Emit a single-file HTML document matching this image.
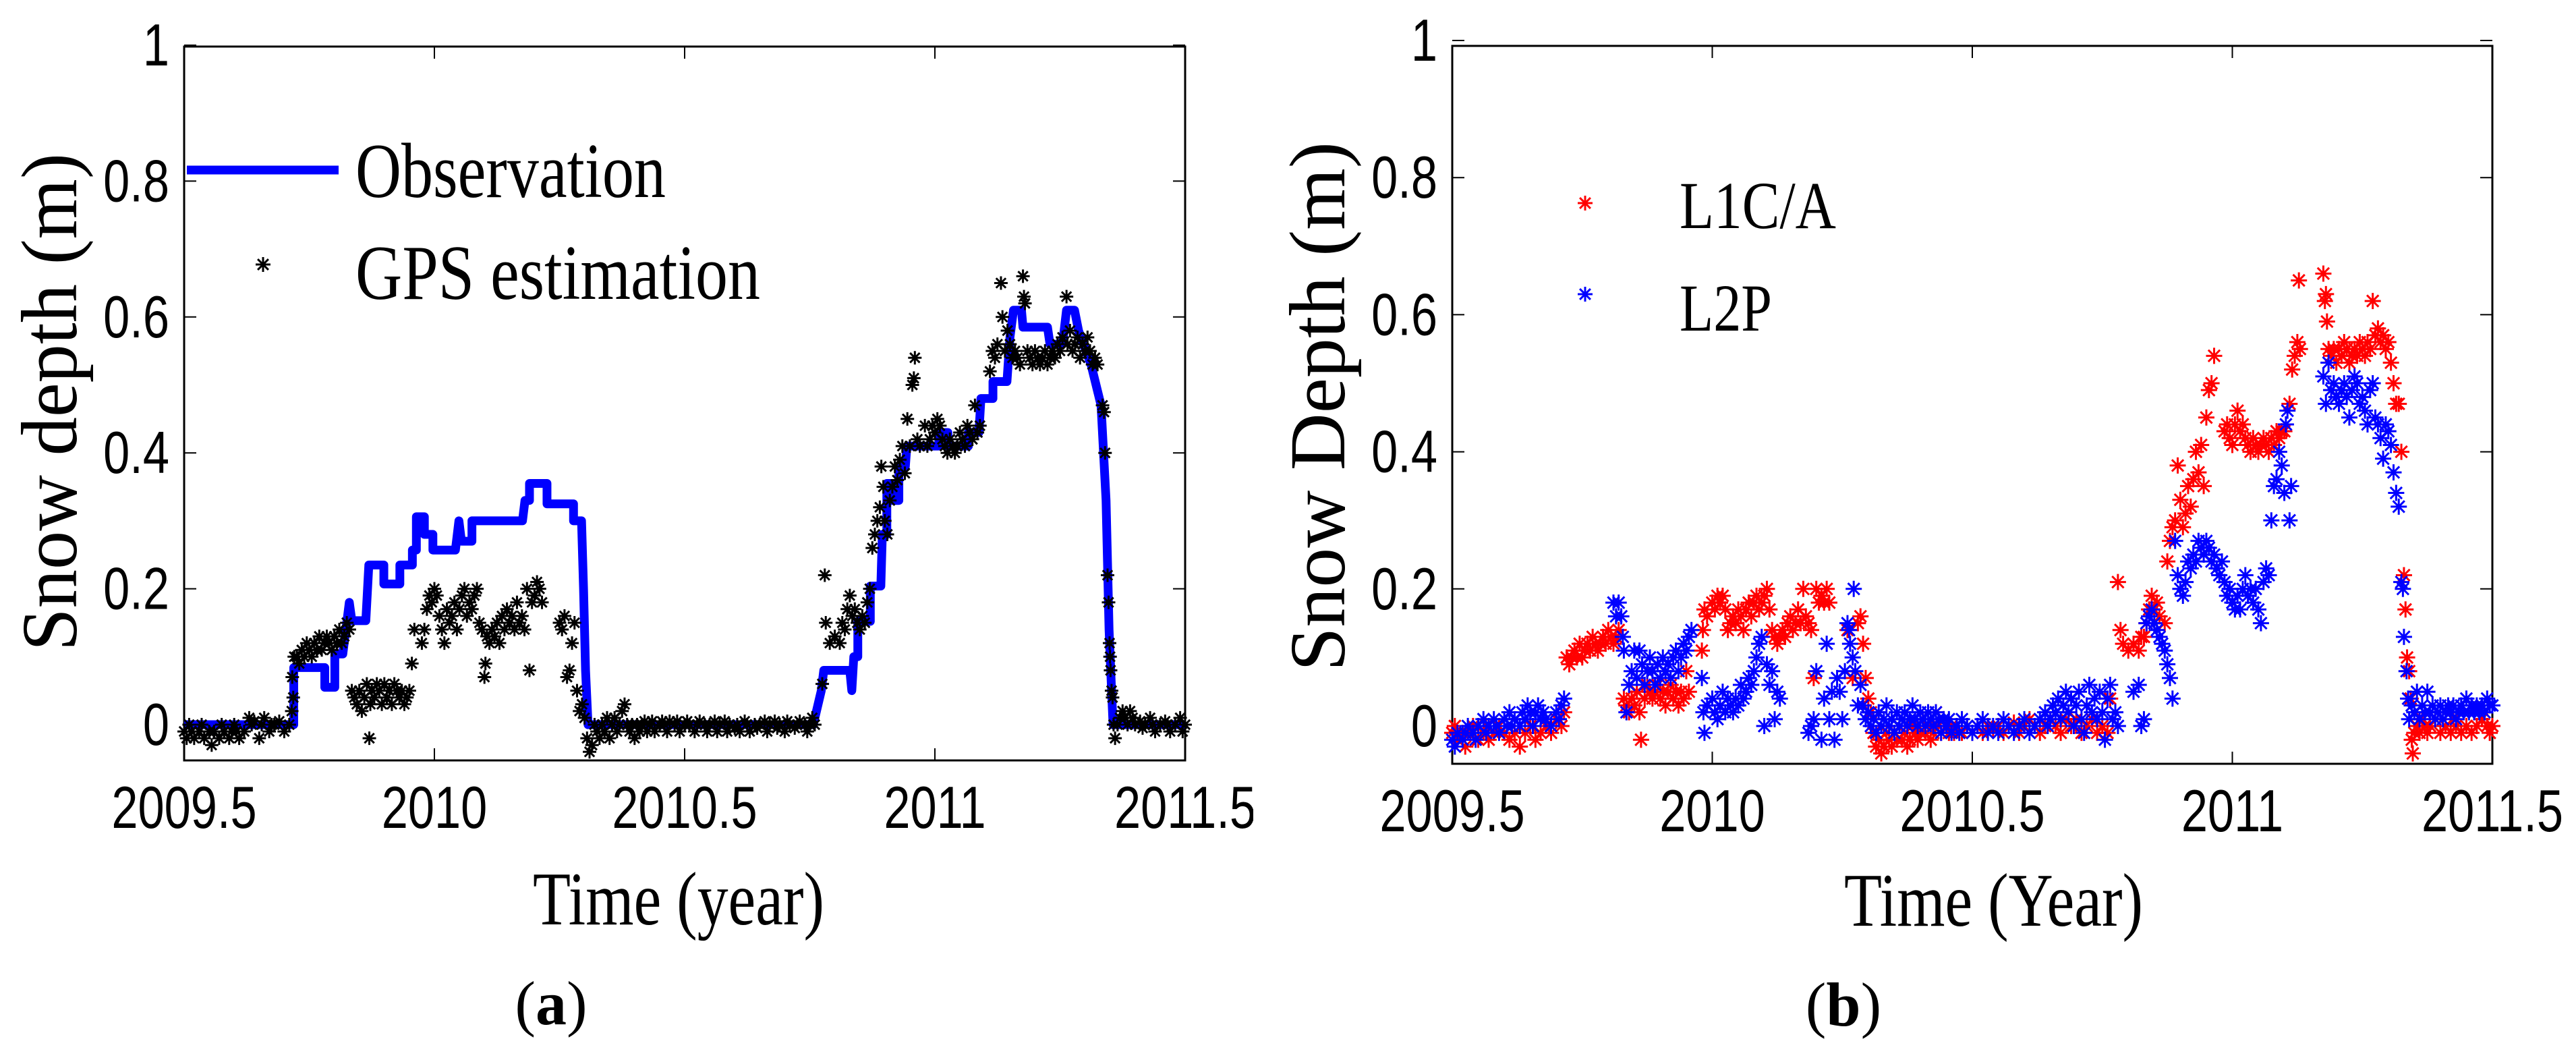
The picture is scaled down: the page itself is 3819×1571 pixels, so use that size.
<!DOCTYPE html>
<html><head><meta charset="utf-8">
<style>
html,body{margin:0;padding:0;background:#fff;}
svg{display:block;}
.tk{font-family:"Liberation Sans",sans-serif;font-size:88px;fill:#000;}
.sr{font-family:"Liberation Serif",serif;fill:#000;}
</style></head>
<body>
<svg id="fig" width="3819" height="1571" viewBox="0 0 3819 1571" xmlns="http://www.w3.org/2000/svg">
<defs><clipPath id="clipA"><rect x="0" y="0" width="1858" height="1571"/></clipPath></defs>
<g id="panelA"></g>
<g id="panelB"></g>
</svg>
<script>
// ---------- data ----------
const xTicks = [2009.5, 2010, 2010.5, 2011, 2011.5];
const xTickLabels = ["2009.5", "2010", "2010.5", "2011", "2011.5"];
const yTicks = [0, 0.2, 0.4, 0.6, 0.8, 1];
const yTickLabels = ["0", "0.2", "0.4", "0.6", "0.8", "1"];

const observationSteps = [[2009.5,0],[2009.719,0],[2009.719,0.084],[2009.781,0.084],[2009.781,0.055],[2009.801,0.055],[2009.801,0.104],[2009.817,0.104],[2009.83,0.18],[2009.835,0.153],[2009.863,0.153],[2009.869,0.235],[2009.899,0.235],[2009.899,0.207],[2009.931,0.207],[2009.931,0.235],[2009.956,0.235],[2009.956,0.257],[2009.964,0.257],[2009.964,0.306],[2009.98,0.306],[2009.98,0.28],[2009.997,0.28],[2009.997,0.257],[2010.042,0.257],[2010.049,0.3],[2010.054,0.27],[2010.075,0.27],[2010.075,0.3],[2010.176,0.3],[2010.181,0.33],[2010.19,0.33],[2010.19,0.355],[2010.225,0.355],[2010.225,0.325],[2010.278,0.325],[2010.278,0.3],[2010.294,0.3],[2010.298,0.2],[2010.302,0.08],[2010.307,0],[2010.757,0],[2010.773,0.05],[2010.778,0.08],[2010.830,0.08],[2010.834,0.05],[2010.838,0.1],[2010.846,0.1],[2010.846,0.152],[2010.871,0.152],[2010.871,0.204],[2010.892,0.204],[2010.895,0.28],[2010.904,0.28],[2010.904,0.355],[2010.912,0.355],[2010.912,0.33],[2010.928,0.33],[2010.928,0.38],[2010.941,0.38],[2010.944,0.41],[2011.007,0.41],[2011.01,0.43],[2011.026,0.43],[2011.026,0.41],[2011.067,0.41],[2011.067,0.43],[2011.088,0.43],[2011.092,0.48],[2011.116,0.48],[2011.116,0.505],[2011.144,0.505],[2011.15,0.57],[2011.157,0.61],[2011.173,0.61],[2011.176,0.585],[2011.225,0.585],[2011.23,0.56],[2011.255,0.56],[2011.263,0.61],[2011.279,0.61],[2011.287,0.58],[2011.312,0.53],[2011.332,0.47],[2011.342,0.33],[2011.348,0.14],[2011.353,0.05],[2011.356,0],[2011.5,0]];

const gpsEstimation = [[2009.5,-0.01],[2009.505,-0.02],[2009.51,0],[2009.515,-0.01],[2009.52,-0.02],[2009.53,-0.01],[2009.535,0],[2009.54,-0.02],[2009.55,-0.01],[2009.555,-0.03],[2009.56,-0.01],[2009.57,-0.02],[2009.575,0],[2009.58,-0.01],[2009.59,-0.02],[2009.595,-0.01],[2009.6,0],[2009.605,-0.01],[2009.61,-0.02],[2009.62,-0.01],[2009.63,0.01],[2009.635,0],[2009.64,0.005],[2009.65,-0.02],[2009.655,0],[2009.66,0.01],[2009.67,-0.01],[2009.675,0],[2009.68,0],[2009.69,0.005],[2009.7,-0.01],[2009.71,0],[2009.715,0.02],[2009.718,0.04],[2009.716,0.07],[2009.72,0.1],
[2009.725,0.1],[2009.73,0.09],[2009.735,0.11],[2009.74,0.1],[2009.745,0.12],[2009.75,0.11],[2009.755,0.1],[2009.76,0.12],[2009.765,0.11],[2009.77,0.13],[2009.775,0.11],[2009.78,0.12],[2009.785,0.13],[2009.79,0.12],[2009.795,0.11],[2009.8,0.13],[2009.805,0.12],[2009.81,0.14],[2009.815,0.12],[2009.82,0.13],[2009.825,0.15],[2009.83,0.14],
[2009.835,0.05],[2009.84,0.04],[2009.845,0.03],[2009.85,0.05],[2009.855,0.02],[2009.86,0.04],[2009.865,0.06],[2009.87,-0.02],[2009.872,0.03],[2009.875,0.05],[2009.88,0.04],[2009.885,0.06],[2009.89,0.05],[2009.895,0.03],[2009.9,0.06],[2009.905,0.04],[2009.91,0.05],[2009.915,0.03],[2009.92,0.06],[2009.925,0.05],[2009.93,0.04],[2009.935,0.05],[2009.94,0.03],[2009.945,0.04],[2009.95,0.05],[2009.955,0.09],[2009.96,0.14],
[2009.975,0.12],[2009.98,0.14],[2009.985,0.17],[2009.99,0.19],[2009.995,0.18],[2010,0.2],[2010.005,0.19],[2010.01,0.16],[2010.015,0.14],[2010.02,0.12],[2010.025,0.17],[2010.03,0.15],[2010.035,0.16],[2010.04,0.18],[2010.045,0.14],[2010.05,0.17],[2010.055,0.19],[2010.06,0.2],[2010.065,0.16],[2010.07,0.18],[2010.075,0.17],[2010.08,0.19],[2010.085,0.2],[2010.09,0.15],[2010.095,0.14],[2010.1,0.07],[2010.102,0.09],[2010.105,0.13],[2010.11,0.12],[2010.115,0.14],[2010.12,0.13],[2010.125,0.15],[2010.13,0.12],[2010.135,0.16],[2010.14,0.14],[2010.145,0.17],[2010.15,0.15],[2010.155,0.16],[2010.16,0.14],[2010.165,0.18],[2010.17,0.15],[2010.175,0.16],[2010.18,0.14],[2010.185,0.2],[2010.19,0.08],[2010.195,0.18],[2010.2,0.19],[2010.205,0.21],[2010.21,0.2],[2010.215,0.18],
[2010.25,0.15],[2010.255,0.14],[2010.26,0.16],[2010.265,0.07],[2010.27,0.08],[2010.275,0.12],[2010.28,0.15],[2010.285,0.05],[2010.29,0.02],[2010.295,0.03],
[2010.3,0.01],[2010.305,-0.02],[2010.31,-0.04],[2010.315,-0.03],[2010.32,0],[2010.325,-0.01],[2010.33,-0.02],[2010.335,0],[2010.34,-0.01],[2010.345,0.01],[2010.35,-0.02],[2010.355,0],[2010.36,0.01],[2010.365,-0.01],[2010.37,0],[2010.375,0.02],[2010.38,0.03],[2010.385,0],[2010.39,-0.01],[2010.395,0],[2010.4,-0.02],[2010.405,0],[2010.41,-0.01],[2010.415,0],[2010.42,0.005],[2010.425,-0.01],[2010.43,0],[2010.435,0.005],[2010.44,-0.01],[2010.45,0],[2010.455,0.005],[2010.46,0],[2010.465,-0.01],[2010.47,0.005],[2010.48,0],[2010.485,0.005],[2010.49,-0.01],[2010.5,0],[2010.505,0.005],[2010.51,0],[2010.52,-0.01],[2010.525,0],[2010.53,0.005],[2010.54,0],[2010.545,-0.01],[2010.55,0],[2010.56,0.005],[2010.565,-0.01],[2010.57,0],[2010.58,0.005],[2010.585,-0.01],[2010.59,0],[2010.6,-0.005],[2010.605,0],[2010.61,-0.01],[2010.62,0.005],[2010.625,0],[2010.63,-0.01],[2010.64,0],[2010.645,-0.005],[2010.65,0],[2010.66,0.005],[2010.665,-0.01],[2010.67,0],[2010.68,0.005],[2010.685,-0.005],[2010.69,0],[2010.7,-0.01],[2010.705,0.005],[2010.71,0],[2010.72,-0.005],[2010.725,0],[2010.73,0.005],[2010.74,0],[2010.745,-0.01],[2010.75,0],[2010.755,0.01],[2010.76,0],
[2010.775,0.06],[2010.78,0.22],[2010.782,0.15],[2010.79,0.12],[2010.8,0.13],[2010.81,0.12],[2010.815,0.15],[2010.82,0.14],[2010.825,0.17],[2010.83,0.19],[2010.835,0.16],[2010.84,0.17],[2010.845,0.15],[2010.85,0.14],[2010.855,0.16],[2010.86,0.15],[2010.865,0.18],[2010.87,0.2],[2010.875,0.26],[2010.88,0.28],[2010.885,0.3],[2010.89,0.32],[2010.893,0.38],[2010.897,0.35],[2010.9,0.3],[2010.905,0.28],[2010.91,0.33],[2010.915,0.35],[2010.92,0.38],[2010.925,0.36],[2010.93,0.39],[2010.935,0.41],[2010.94,0.37],[2010.945,0.45],[2010.95,0.41],[2010.955,0.5],[2010.958,0.51],[2010.96,0.54],[2010.965,0.42],[2010.97,0.41],[2010.98,0.44],[2010.985,0.41],[2010.99,0.42],[2010.995,0.44],[2011,0.43],[2011.005,0.45],[2011.01,0.44],[2011.015,0.42],[2011.02,0.41],[2011.025,0.4],[2011.03,0.42],[2011.035,0.41],[2011.04,0.4],[2011.045,0.41],[2011.05,0.43],[2011.055,0.42],[2011.06,0.41],[2011.065,0.44],[2011.07,0.43],[2011.075,0.42],[2011.08,0.47],[2011.085,0.43],[2011.09,0.44],[2011.11,0.52],[2011.115,0.55],[2011.12,0.54],[2011.125,0.56],[2011.132,0.65],[2011.135,0.6],[2011.14,0.55],[2011.145,0.58],[2011.15,0.56],[2011.155,0.54],[2011.16,0.55],[2011.165,0.54],[2011.17,0.53],[2011.176,0.66],[2011.178,0.63],[2011.18,0.62],[2011.185,0.55],[2011.19,0.54],[2011.195,0.53],[2011.2,0.55],[2011.205,0.54],[2011.21,0.53],[2011.215,0.54],[2011.22,0.55],[2011.225,0.53],[2011.23,0.54],[2011.235,0.55],[2011.24,0.54],[2011.245,0.56],[2011.25,0.55],[2011.255,0.57],[2011.263,0.63],[2011.265,0.56],[2011.27,0.58],[2011.275,0.55],[2011.28,0.56],[2011.285,0.57],[2011.29,0.54],[2011.295,0.56],[2011.3,0.55],[2011.305,0.57],[2011.31,0.55],[2011.315,0.53],[2011.32,0.54],[2011.325,0.53],[2011.335,0.47],[2011.338,0.46],[2011.34,0.4],[2011.345,0.22],[2011.347,0.18],[2011.349,0.12],[2011.35,0.1],[2011.351,0.08],[2011.353,0.05],[2011.355,0.04],[2011.357,0],[2011.36,-0.02],[2011.365,0],[2011.37,0.01],[2011.375,0.02],[2011.38,0.01],[2011.385,0],[2011.39,0.02],[2011.395,0.01],[2011.4,0],[2011.41,0.005],[2011.415,-0.005],[2011.42,0],[2011.43,0.01],[2011.435,0],[2011.44,-0.01],[2011.45,0],[2011.46,0.005],[2011.465,0],[2011.47,-0.01],[2011.48,0],[2011.49,0.01],[2011.495,-0.01],[2011.5,0]];

const l1caDepth = [[2009.5,-0.01],[2009.505,0],[2009.51,-0.02],[2009.52,-0.01],[2009.525,-0.03],[2009.53,-0.01],[2009.54,0],[2009.55,-0.02],[2009.56,-0.01],[2009.565,0],[2009.57,-0.02],[2009.58,-0.01],[2009.59,0],[2009.6,-0.01],[2009.61,-0.02],[2009.62,-0.01],[2009.63,-0.03],[2009.64,-0.01],[2009.65,0],[2009.66,-0.02],[2009.67,-0.01],[2009.68,0],[2009.69,-0.01],[2009.7,0.01],[2009.71,0],[2009.715,0.02],
[2009.72,0.1],[2009.725,0.09],[2009.73,0.1],[2009.735,0.11],[2009.74,0.1],[2009.745,0.12],[2009.75,0.1],[2009.755,0.11],[2009.76,0.12],[2009.765,0.11],[2009.77,0.13],[2009.775,0.12],[2009.78,0.11],[2009.785,0.12],[2009.79,0.13],[2009.795,0.12],[2009.8,0.14],[2009.805,0.13],[2009.81,0.12],[2009.815,0.13],[2009.82,0.14],
[2009.83,0.04],[2009.835,0.03],[2009.84,0.02],[2009.845,0.04],[2009.85,0.03],[2009.855,0.05],[2009.86,0.02],[2009.863,-0.02],[2009.87,0.04],[2009.875,0.06],[2009.88,0.05],[2009.885,0.04],[2009.89,0.05],[2009.895,0.06],[2009.9,0.04],[2009.905,0.05],[2009.91,0.03],[2009.915,0.05],[2009.92,0.06],[2009.925,0.04],[2009.93,0.05],[2009.935,0.03],[2009.94,0.05],[2009.945,0.04],[2009.95,0.08],[2009.955,0.05],
[2009.98,0.11],[2009.982,0.14],[2009.985,0.17],[2009.99,0.16],[2010,0.18],[2010.005,0.17],[2010.01,0.19],[2010.015,0.18],[2010.02,0.19],[2010.025,0.17],[2010.03,0.14],[2010.035,0.15],[2010.04,0.16],[2010.045,0.15],[2010.05,0.17],[2010.055,0.16],[2010.06,0.14],[2010.065,0.17],[2010.07,0.18],[2010.075,0.16],[2010.08,0.18],[2010.085,0.19],[2010.09,0.17],[2010.095,0.18],[2010.1,0.19],[2010.105,0.2],[2010.11,0.17],[2010.115,0.14],[2010.12,0.13],[2010.125,0.12],[2010.13,0.13],[2010.135,0.14],[2010.14,0.13],[2010.145,0.15],[2010.15,0.16],[2010.155,0.14],[2010.16,0.15],[2010.165,0.17],[2010.17,0.15],[2010.175,0.2],[2010.18,0.16],[2010.185,0.15],[2010.19,0.14],[2010.195,0.07],[2010.2,0.2],[2010.205,0.18],[2010.21,0.19],[2010.215,0.18],[2010.22,0.2],[2010.225,0.18],
[2010.26,0.14],[2010.27,0.07],[2010.28,0.15],[2010.285,0.16],[2010.29,0.12],[2010.295,0.07],[2010.3,0.04],[2010.305,0.02],
[2010.31,-0.01],[2010.315,-0.03],[2010.32,-0.02],[2010.325,-0.04],[2010.33,-0.03],[2010.335,-0.01],[2010.34,-0.02],[2010.345,-0.03],[2010.35,-0.01],[2010.355,-0.02],[2010.36,0],[2010.365,-0.02],[2010.37,-0.01],[2010.375,-0.03],[2010.38,-0.02],[2010.385,0],[2010.39,-0.01],[2010.395,-0.02],[2010.4,-0.01],[2010.405,0.01],[2010.41,-0.01],[2010.415,0],[2010.42,-0.02],[2010.425,-0.01],[2010.43,0.02],[2010.435,0],[2010.44,-0.01],[2010.445,0.01],[2010.45,0],[2010.455,-0.01],[2010.46,0],[2010.465,-0.01],[2010.47,0],[2010.48,-0.01],[2010.49,0],[2010.5,-0.01],[2010.51,0],[2010.52,-0.01],[2010.53,0],[2010.54,-0.005],[2010.55,0],[2010.56,-0.01],[2010.57,0],[2010.58,0.005],[2010.59,-0.01],[2010.6,0],[2010.61,0.01],[2010.62,0],[2010.63,-0.01],[2010.64,0],[2010.65,0.01],[2010.66,0],[2010.67,-0.01],[2010.68,0.01],[2010.69,0],[2010.7,0.01],[2010.71,-0.01],[2010.72,0],[2010.73,0.01],[2010.74,-0.01],[2010.75,0],[2010.76,-0.01],[2010.765,0.04],
[2010.78,0.21],[2010.785,0.14],[2010.79,0.12],[2010.8,0.11],[2010.81,0.12],[2010.82,0.11],[2010.825,0.13],[2010.83,0.13],[2010.835,0.15],[2010.84,0.17],[2010.845,0.19],[2010.85,0.17],[2010.855,0.18],[2010.86,0.16],[2010.87,0.15],[2010.875,0.24],[2010.88,0.27],[2010.885,0.29],[2010.89,0.3],[2010.895,0.38],[2010.9,0.33],[2010.905,0.29],[2010.91,0.31],[2010.915,0.35],[2010.92,0.32],[2010.925,0.36],[2010.93,0.4],[2010.935,0.37],[2010.94,0.41],[2010.945,0.35],[2010.95,0.45],[2010.955,0.49],[2010.96,0.5],[2010.965,0.54],
[2010.985,0.43],[2010.99,0.44],[2010.995,0.42],[2011,0.41],[2011.005,0.44],[2011.01,0.46],[2011.015,0.43],[2011.02,0.44],[2011.025,0.42],[2011.03,0.41],[2011.035,0.4],[2011.04,0.42],[2011.045,0.41],[2011.05,0.4],[2011.055,0.41],[2011.06,0.42],[2011.065,0.41],[2011.07,0.4],[2011.075,0.42],[2011.08,0.41],[2011.085,0.43],[2011.09,0.42],[2011.095,0.43],[2011.1,0.43],[2011.11,0.47],[2011.115,0.52],[2011.12,0.54],[2011.125,0.56],[2011.128,0.65],[2011.13,0.55],
[2011.175,0.66],[2011.178,0.62],[2011.18,0.63],[2011.182,0.59],[2011.185,0.55],[2011.19,0.54],[2011.195,0.55],[2011.2,0.53],[2011.205,0.55],[2011.21,0.54],[2011.215,0.56],[2011.22,0.55],[2011.225,0.53],[2011.23,0.54],[2011.235,0.55],[2011.24,0.54],[2011.245,0.56],[2011.25,0.55],[2011.255,0.54],[2011.26,0.56],[2011.265,0.55],[2011.27,0.62],[2011.275,0.57],[2011.28,0.58],[2011.285,0.56],[2011.29,0.57],[2011.295,0.55],[2011.3,0.56],[2011.305,0.53],[2011.31,0.5],[2011.315,0.47],[2011.32,0.47],[2011.325,0.4],[2011.33,0.22],[2011.333,0.17],[2011.336,0.1],[2011.34,0.08],[2011.343,0.04],[2011.345,-0.02],[2011.347,-0.04],[2011.35,-0.01],[2011.355,0],[2011.36,-0.01],[2011.365,0.01],[2011.37,0],[2011.375,-0.01],[2011.38,0],[2011.39,0.01],[2011.4,-0.01],[2011.41,0],[2011.42,-0.01],[2011.425,0.01],[2011.43,0],[2011.44,-0.01],[2011.45,0],[2011.46,-0.01],[2011.47,0],[2011.48,0.01],[2011.49,0],[2011.495,-0.01],[2011.5,0]];

const l2pDepth = [[2009.5,-0.02],[2009.505,-0.03],[2009.51,-0.01],[2009.52,-0.02],[2009.525,-0.01],[2009.53,0],[2009.54,-0.01],[2009.545,-0.02],[2009.55,0],[2009.56,0.01],[2009.565,-0.01],[2009.57,0],[2009.58,0.01],[2009.585,0],[2009.59,-0.01],[2009.6,0.01],[2009.605,0],[2009.61,0.02],[2009.615,0],[2009.62,0.01],[2009.63,0],[2009.635,0.02],[2009.64,0.01],[2009.645,0.03],[2009.65,0.02],[2009.655,0],[2009.66,0.02],[2009.665,0.03],[2009.67,0.01],[2009.675,0.02],[2009.68,0.01],[2009.69,0],[2009.7,0.02],[2009.705,0.01],[2009.71,0.03],[2009.715,0.04],
[2009.81,0.18],[2009.815,0.16],[2009.82,0.18],[2009.825,0.16],[2009.828,0.13],[2009.83,0.11],[2009.835,0.02],[2009.84,0.06],[2009.845,0.08],[2009.85,0.11],[2009.855,0.07],[2009.86,0.11],[2009.865,0.09],[2009.87,0.06],[2009.875,0.08],[2009.88,0.1],[2009.885,0.08],[2009.89,0.06],[2009.895,0.09],[2009.9,0.07],[2009.905,0.1],[2009.91,0.08],[2009.915,0.09],[2009.92,0.07],[2009.925,0.1],[2009.93,0.11],[2009.935,0.08],[2009.94,0.1],[2009.945,0.12],[2009.95,0.11],[2009.955,0.13],[2009.96,0.14],
[2009.98,0.07],[2009.983,0.02],[2009.985,-0.01],[2009.99,0.03],[2010,0.04],[2010.005,0.02],[2010.01,0.01],[2010.015,0.03],[2010.02,0.05],[2010.025,0.02],[2010.03,0.04],[2010.035,0.03],[2010.04,0.02],[2010.045,0.04],[2010.05,0.03],[2010.055,0.06],[2010.06,0.04],[2010.065,0.05],[2010.07,0.07],[2010.075,0.06],[2010.08,0.08],[2010.085,0.1],[2010.09,0.12],[2010.095,0.13],[2010.1,0],[2010.105,0.09],[2010.11,0.06],[2010.115,0.08],[2010.12,0.01],[2010.125,0.05],[2010.13,0.04],
[2010.185,-0.01],[2010.19,0],[2010.195,0.01],[2010.2,0.08],[2010.21,-0.02],[2010.215,0.04],[2010.22,0.12],[2010.225,0.01],[2010.23,0.05],[2010.235,-0.02],[2010.24,0.07],[2010.245,0.05],[2010.25,0.01],[2010.255,0.08],[2010.26,0.15],[2010.263,0.14],[2010.265,0.12],[2010.27,0.1],[2010.272,0.2],[2010.275,0.08],[2010.28,0.03],[2010.285,0.06],[2010.29,0.03],[2010.295,0.01],
[2010.3,0.02],[2010.305,0],[2010.31,0.01],[2010.315,-0.01],[2010.32,0.02],[2010.325,0],[2010.33,0.01],[2010.335,0.03],[2010.34,0],[2010.345,0.01],[2010.35,-0.01],[2010.355,0.02],[2010.36,0],[2010.365,0.01],[2010.37,0.02],[2010.375,0],[2010.38,0.01],[2010.385,0.03],[2010.39,0.01],[2010.395,0],[2010.4,0.02],[2010.405,0.01],[2010.41,0],[2010.415,0.02],[2010.42,0.01],[2010.425,0],[2010.43,0.02],[2010.435,0.01],[2010.44,-0.01],[2010.445,0.01],[2010.45,0],[2010.455,0.01],[2010.46,-0.01],[2010.47,0],[2010.475,-0.01],[2010.48,0.01],[2010.49,0],[2010.5,-0.01],[2010.51,0],[2010.52,0.01],[2010.53,-0.01],[2010.54,0],[2010.55,-0.01],[2010.56,0.01],[2010.57,0],[2010.58,-0.01],[2010.59,0],[2010.6,0.01],[2010.61,-0.01],[2010.62,0],[2010.63,0.01],[2010.64,0.02],[2010.645,0],[2010.65,0.01],[2010.655,0.03],[2010.66,0.02],[2010.665,0.04],[2010.67,0.01],[2010.675,0.03],[2010.68,0.05],[2010.685,0.02],[2010.69,0.04],[2010.695,0],[2010.7,0.03],[2010.705,0.05],[2010.71,0.01],[2010.715,-0.01],[2010.72,0.03],[2010.725,0.06],[2010.73,0.02],[2010.735,0.04],[2010.74,0.01],[2010.745,0.05],[2010.75,0.02],[2010.755,-0.02],[2010.76,0.04],[2010.765,0.06],[2010.77,0.01],[2010.775,0.02],[2010.78,0],
[2010.81,0.05],[2010.82,0.06],[2010.825,0],[2010.83,0.01],[2010.835,0.15],[2010.84,0.16],[2010.845,0.17],[2010.85,0.15],[2010.855,0.14],[2010.86,0.13],[2010.865,0.12],[2010.87,0.11],[2010.875,0.09],[2010.88,0.07],[2010.885,0.04],[2010.89,0.27],[2010.895,0.22],[2010.9,0.2],[2010.905,0.19],[2010.91,0.21],[2010.915,0.24],[2010.92,0.23],[2010.925,0.25],[2010.93,0.24],[2010.935,0.27],[2010.94,0.26],[2010.945,0.25],[2010.95,0.27],[2010.955,0.26],[2010.96,0.24],[2010.965,0.25],[2010.97,0.23],[2010.975,0.22],[2010.98,0.24],[2010.985,0.21],[2010.99,0.19],[2010.995,0.2],[2011,0.18],[2011.005,0.17],[2011.01,0.19],[2011.015,0.17],[2011.02,0.2],[2011.025,0.22],[2011.03,0.19],[2011.035,0.2],[2011.04,0.18],[2011.045,0.2],[2011.05,0.17],[2011.055,0.15],[2011.06,0.21],[2011.065,0.23],[2011.07,0.22],[2011.075,0.3],[2011.08,0.35],[2011.085,0.36],[2011.09,0.4],[2011.095,0.38],[2011.1,0.34],[2011.103,0.44],[2011.106,0.46],[2011.11,0.3],[2011.113,0.35],
[2011.175,0.51],[2011.18,0.47],[2011.185,0.53],[2011.19,0.49],[2011.195,0.5],[2011.2,0.48],[2011.205,0.47],[2011.21,0.49],[2011.215,0.5],[2011.22,0.48],[2011.225,0.45],[2011.23,0.49],[2011.235,0.51],[2011.24,0.5],[2011.245,0.47],[2011.25,0.48],[2011.255,0.46],[2011.26,0.44],[2011.265,0.49],[2011.27,0.5],[2011.275,0.45],[2011.28,0.44],[2011.285,0.42],[2011.29,0.39],[2011.295,0.44],[2011.3,0.43],[2011.305,0.41],[2011.31,0.37],[2011.315,0.34],[2011.32,0.32],[2011.325,0.21],[2011.328,0.2],[2011.33,0.13],[2011.335,0.08],[2011.338,0.04],[2011.34,0.01],[2011.345,0.03],[2011.35,0.02],[2011.355,0.05],[2011.36,0.01],[2011.365,0.03],[2011.37,0.02],[2011.375,0.05],[2011.38,0.02],[2011.385,0.03],[2011.39,0.01],[2011.395,0.02],[2011.4,0.03],[2011.405,0.01],[2011.41,0.02],[2011.415,0.03],[2011.42,0.02],[2011.425,0.03],[2011.43,0.01],[2011.435,0.02],[2011.44,0.03],[2011.445,0.02],[2011.45,0.04],[2011.455,0.02],[2011.46,0.03],[2011.465,0.02],[2011.47,0.03],[2011.475,0.02],[2011.48,0.03],[2011.485,0.02],[2011.49,0.04],[2011.495,0.03],[2011.5,0.03]];

// ---------- drawing ----------
const NS = "http://www.w3.org/2000/svg";
function mk(tag, attrs, parent) {
  const e = document.createElementNS(NS, tag);
  for (const k in attrs) e.setAttribute(k, attrs[k]);
  parent.appendChild(e);
  return e;
}
function makeAxes(L, R, T, B, y0, y1) {
  return {
    x: v => L + (v - 2009.5) / 2 * (R - L),
    y: v => y0 + (y1 - y0) * v,
    L, R, T, B
  };
}
function star(parent, cx, cy, r, color, name) {
  const d = `M${cx-r},${cy}H${cx+r}M${cx},${cy-r}V${cy+r}M${cx-r*0.72},${cy-r*0.72}L${cx+r*0.72},${cy+r*0.72}M${cx-r*0.72},${cy+r*0.72}L${cx+r*0.72},${cy-r*0.72}`;
  const p = mk("path", {d: d, stroke: color, "stroke-width": 3, fill: "none"}, parent);
  
  
  return p;
}
function drawFrame(g, ax, clip) {
  const frame = mk("rect", {x: ax.L, y: ax.T, width: ax.R - ax.L, height: ax.B - ax.T, fill: "none", stroke: "#000", "stroke-width": 3}, g);
  
  
  const tg = mk("g", clip ? {"clip-path": "url(#" + clip + ")"} : {}, g);
  
  
  xTicks.forEach((t, i) => {
    const x = ax.x(t);
    mk("path", {d: `M${x},${ax.B}v-18M${x},${ax.T}v18`, stroke: "#000", "stroke-width": 2}, g);
    const lbl = mk("text", {class: "tk", "text-anchor": "middle", transform: `translate(${x},${ax.B + 100}) scale(0.8,1)`}, tg);
    lbl.textContent = xTickLabels[i];
    
    
  });
  yTicks.forEach((t, i) => {
    const y = ax.y(t);
    mk("path", {d: `M${ax.L},${y}h18M${ax.R},${y}h-18`, stroke: "#000", "stroke-width": 2}, g);
    const lbl = mk("text", {class: "tk", "text-anchor": "end", transform: `translate(${ax.L - 22},${y + 30}) scale(0.8,1)`}, g);
    lbl.textContent = yTickLabels[i];
    
    
  });
}
function textEl(g, txt, attrs, name) {
  const t = mk("text", attrs, g);
  t.textContent = txt;
  
  
  return t;
}

// Panel A
const gA = document.getElementById("panelA");
const axA = makeAxes(273, 1757, 69, 1127, 1074, 67);
drawFrame(gA, axA, "clipA");
const obsPts = observationSteps.map(p => axA.x(p[0]) + "," + axA.y(p[1])).join(" ");
const obsLine = mk("polyline", {points: obsPts, fill: "none", stroke: "#0000ff", "stroke-width": 13, "stroke-linejoin": "round"}, gA);


const gpsG = mk("g", {}, gA);


gpsEstimation.forEach(p => star(gpsG, axA.x(p[0]), axA.y(p[1]), 10, "#000", "gps-point"));
// legend A
const legA = mk("g", {}, gA);


const legLine = mk("line", {x1: 277, y1: 252, x2: 502, y2: 252, stroke: "#0000ff", "stroke-width": 13}, legA);


textEl(legA, "Observation", {class: "sr", x: 527, y: 292, "font-size": 115, textLength: 460, lengthAdjust: "spacingAndGlyphs"}, "legend-observation-label");
star(legA, 390, 392, 11, "#000", "legend-gps-marker");
textEl(legA, "GPS estimation", {class: "sr", x: 527, y: 443, "font-size": 115, textLength: 600, lengthAdjust: "spacingAndGlyphs"}, "legend-gps-label");
textEl(gA, "Time (year)", {class: "sr", x: 790, y: 1370, "font-size": 112, textLength: 432, lengthAdjust: "spacingAndGlyphs"}, "x-axis-title-a");
textEl(gA, "Snow depth (m)", {class: "sr", transform: "translate(113,965) rotate(-90)", "font-size": 118, textLength: 738, lengthAdjust: "spacingAndGlyphs"}, "y-axis-title-a");
const capA = mk("text", {class: "sr", x: 817, y: 1518, "font-size": 92, "text-anchor": "middle"}, gA);
capA.innerHTML = '(<tspan font-weight="bold">a</tspan>)';



// Panel B
const gB = document.getElementById("panelB");
const axB = makeAxes(2153, 3695, 68, 1132, 1076, 60);
drawFrame(gB, axB, null);
const redG = mk("g", {}, gB);


l1caDepth.forEach(p => star(redG, axB.x(p[0]), axB.y(p[1]), 12, "#ff0000", "l1ca-point"));
const blueG = mk("g", {}, gB);


l2pDepth.forEach(p => star(blueG, axB.x(p[0]), axB.y(p[1]), 12, "#0000ff", "l2p-point"));
const legB = mk("g", {}, gB);


star(legB, 2350, 301, 11, "#ff0000", "legend-l1ca-marker");
textEl(legB, "L1C/A", {class: "sr", x: 2490, y: 338, "font-size": 100, textLength: 232, lengthAdjust: "spacingAndGlyphs"}, "legend-l1ca-label");
star(legB, 2350, 436, 11, "#0000ff", "legend-l2p-marker");
textEl(legB, "L2P", {class: "sr", x: 2490, y: 490, "font-size": 100, textLength: 137, lengthAdjust: "spacingAndGlyphs"}, "legend-l2p-label");
textEl(gB, "Time (Year)", {class: "sr", x: 2734, y: 1372, "font-size": 112, textLength: 443, lengthAdjust: "spacingAndGlyphs"}, "x-axis-title-b");
textEl(gB, "Snow Depth (m)", {class: "sr", transform: "translate(1993,995) rotate(-90)", "font-size": 118, textLength: 785, lengthAdjust: "spacingAndGlyphs"}, "y-axis-title-b");
const capB = mk("text", {class: "sr", x: 2733, y: 1520, "font-size": 92, "text-anchor": "middle"}, gB);
capB.innerHTML = '(<tspan font-weight="bold">b</tspan>)';


</script>
</body></html>
